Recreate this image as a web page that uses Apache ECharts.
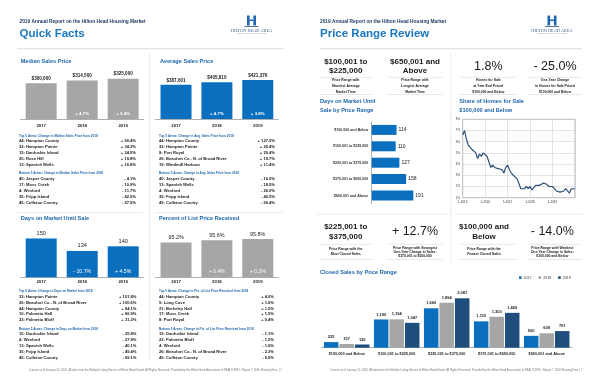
<!DOCTYPE html>
<html><head><meta charset="utf-8">
<script src="https://cdn.jsdelivr.net/npm/echarts@6/dist/echarts.min.js"></script>
<style>html,body{margin:0;padding:0;background:#fff}#c{width:600px;height:388px}</style>
</head><body><div id="c"></div>
<script>
// ---------------- DATA ----------------
const years = ['2017', '2018', '2019'];
const medianPrice = [300000, 314500, 325000];
const medianChange = ['', '+ 4.7%', '+ 3.4%'];
const avgPrice = [387601, 405810, 421376];
const avgChange = ['', '+ 4.7%', '+ 3.8%'];
const daysOnMarket = [150, 134, 140];
const domChange = ['', '- 10.7%', '+ 4.5%'];
const pctListReceived = [95.2, 95.6, 95.8];
const pctChange = ['', '+ 0.4%', '+ 0.2%'];

const medTopAreas = ['44: Hampton County', '32: Hampton Pointe', '15: Daufuskie Island', '20: Rose Hill', '13: Spanish Wells'];
const medTopVals = ['+ 60.4%', '+ 34.3%', '+ 24.5%', '+ 19.8%', '+ 16.8%'];
const medBotAreas = ['40: Jasper County', '17: Moss Creek', '4: Wexford', '35: Fripp Island', '45: Colleton County'];
const medBotVals = ['- 4.1%', '- 10.9%', '- 11.7%', '- 42.5%', '- 57.5%'];

const avgTopAreas = ['44: Hampton County', '32: Hampton Pointe', '8: Port Royal', '26: Beaufort Co - N. of Broad River', '19: Windmill Harbour'];
const avgTopVals = ['+ 127.0%', '+ 25.4%', '+ 20.4%', '+ 19.7%', '+ 11.4%'];
const avgBotAreas = ['40: Jasper County', '13: Spanish Wells', '4: Wexford', '35: Fripp Island', '45: Colleton County'];
const avgBotVals = ['- 16.0%', '- 18.5%', '- 26.0%', '- 40.5%', '- 56.4%'];

const domTopAreas = ['32: Hampton Pointe', '26: Beaufort Co - N. of Broad River', '44: Hampton County', '10: Palmetto Hall', '22: Palmetto Bluff'];
const domTopVals = ['+ 101.8%', '+ 100.6%', '+ 84.1%', '+ 66.9%', '+ 31.2%'];
const domBotAreas = ['15: Daufuskie Island', '4: Wexford', '13: Spanish Wells', '35: Fripp Island', '45: Colleton County'];
const domBotVals = ['- 25.8%', '- 27.8%', '- 40.1%', '- 49.4%', '- 69.1%'];

const pctTopAreas = ['44: Hampton County', '5: Long Cove', '21: Berkeley Hall', '17: Moss Creek', '8: Port Royal'];
const pctTopVals = ['+ 4.0%', '+ 1.6%', '+ 1.5%', '+ 1.5%', '+ 0.4%'];
const pctBotAreas = ['15: Daufuskie Island', '22: Palmetto Bluff', '4: Wexford', '26: Beaufort Co - N. of Broad River', '45: Colleton County'];
const pctBotVals = ['- 1.1%', '- 1.5%', '- 1.6%', '- 2.3%', '- 6.5%'];

const priceRanges = ['$100,000 and Below', '$100,001 to $225,000', '$225,001 to $375,000', '$375,001 to $650,000', '$650,001 and Above'];
const domByRange = [114, 110, 127, 158, 191];
const closed2017 = [235, 1190, 1660, 1110, 500];
const closed2018 = [157, 1194, 1894, 1303, 608];
const closed2019 = [135, 1047, 2081, 1469, 701];

const shareLabels = [];
for (let y = 2015; y <= 2019; y++) for (let m = 1; m <= 12; m++) shareLabels.push(m + '-' + y);
shareLabels.push('1-2020');
const shareValues = [6.6, 7.0, 6.2, 5.7, 5.5, 5.3, 5.4, 5.0, 4.5, 4.9, 4.7, 5.0,
  5.1, 4.7, 4.2, 3.7, 3.9, 3.7, 3.6, 3.6, 3.5, 3.5, 3.2, 3.7,
  3.9, 3.5, 3.2, 3.0, 3.0, 2.7, 2.3, 1.8, 1.9, 1.8, 2.0, 1.8,
  2.0, 1.7, 1.8, 2.1, 2.2, 2.1, 2.2, 2.3, 2.3, 2.2, 2.0, 2.0,
  2.0, 1.8, 1.6, 1.5, 1.5, 1.5, 1.6, 1.8, 1.9, 1.4, 1.8, 1.8, 1.8];

const statsTop = [
  { big: ['$100,001 to', '$225,000'], small: ['Price Range with', 'Shortest Average', 'Market Time'] },
  { big: ['$650,001 and', 'Above'], small: ['Price Range with', 'Longest Average', 'Market Time'] },
  { big: ['1.8%'], small: ['Homes for Sale', 'at Year End Priced', '$100,000 and Below'] },
  { big: ['- 25.0%'], small: ['One-Year Change', 'in Homes for Sale Priced', '$100,000 and Below'] }
];
const statsMid = [
  { big: ['$225,001 to', '$375,000'], small: ['Price Range with the', 'Most Closed Sales'] },
  { big: ['+ 12.7%'], small: ['Price Range with Strongest', 'One-Year Change in Sales:', '$375,001 to $650,000'] },
  { big: ['$100,000 and', 'Below'], small: ['Price Range with the', 'Fewest Closed Sales'] },
  { big: ['- 14.0%'], small: ['Price Range with Weakest', 'One-Year Change in Sales:', '$100,000 and Below'] }
];

// ---------------- STYLE ----------------
const FONT = '"Liberation Sans", Arial, sans-serif';
const BLUE = '#0b6fbf', GRAY = '#a6a6a6', NAVY = '#1f4e7c';
const TITLE = '#1e66ad', HEAD = '#1f3a64', TXT = '#1a1a1a';

const G = [];
function T(x, y, text, size, o) {
  o = o || {};
  G.push({ type: 'text', x: x, y: y, silent: true, z: 10,
    style: { text: text, fontSize: size, fontWeight: o.w || 'bold', fontFamily: o.f || FONT,
      fill: o.c || TXT, textAlign: o.a || 'left', textVerticalAlign: 'middle' } });
}
function L(x1, y1, x2, y2, c, w) {
  G.push({ type: 'line', silent: true, shape: { x1: x1, y1: y1, x2: x2, y2: y2 }, style: { stroke: c || '#d9d9d9', lineWidth: w || 0.6 } });
}
function R(x, y, w, h, c) {
  G.push({ type: 'rect', silent: true, shape: { x: x, y: y, width: w, height: h }, style: { fill: c } });
}
function logo(cx) {
  R(cx - 4.5, 15.5, 2.6, 10, '#1e66ad');
  R(cx + 1.9, 15.5, 2.6, 10, '#1e66ad');
  R(cx - 2, 19.5, 4, 1.6, '#1e66ad');
  R(cx - 7, 26, 14, 0.8, '#2a4d7a');
  T(cx, 30.6, 'HILTON HEAD AREA', 4.3, { a: 'center', w: 'normal', c: '#3f5f86', f: '"Liberation Serif", serif' });
  T(cx, 33.6, 'ASSOCIATION OF REALTORS', 2.3, { a: 'center', w: 'normal', c: '#6a7f99', f: '"Liberation Serif", serif' });
}
function table(x, xr, yHead, rowYs, head, areas, vals) {
  T(x, yHead, head, 3.1, { c: TITLE });
  areas.forEach((a, i) => { T(x, rowYs[i], a, 4.1); T(xr, rowYs[i], vals[i], 4.1, { a: 'right' }); });
}
function statBlock(cx, x1, x2, lineY1, lineY2, bigYs, bigSize, bigW, s, smallYs) {
  s.big.forEach((b, i) => T(cx, bigYs[i], b, bigSize, { a: 'center', w: bigW }));
  L(x1, lineY1, x2, lineY1, '#d0d0d0', 0.5);
  s.small.forEach((t, i) => T(cx, smallYs[i], t, 3.4, { a: 'center' }));
  L(x1, lineY2, x2, lineY2, '#d0d0d0', 0.5);
}

// ---------------- LEFT PAGE TEXT ----------------
T(19.5, 21.5, '2019 Annual Report on the Hilton Head Housing Market', 4.8, { c: HEAD });
T(19.5, 33.5, 'Quick Facts', 11.5, { c: '#1a78c2' });
logo(251.5);
L(17, 48.7, 284, 48.7, '#cfcfcf', 0.7);
L(149.5, 53, 149.5, 361, '#dedede', 0.6);
L(17, 212.7, 143, 212.7, '#dedede', 0.6);
L(155, 212.7, 283, 212.7, '#dedede', 0.6);
T(20.7, 61, 'Median Sales Price', 5.6, { c: TITLE });
T(160, 61, 'Average Sales Price', 5.6, { c: TITLE });
T(20.7, 218.3, 'Days on Market Until Sale', 5.6, { c: TITLE });
T(159, 218.3, 'Percent of List Price Received', 5.6, { c: TITLE });

const rowsA = [141, 147, 153.2, 159.2, 165];
const rowsB = [179, 185, 191, 197, 202.8];
const rowsC = [297, 302.7, 308.4, 314.1, 319.8];
const rowsD = [334, 340, 346, 351.7, 357.4];
table(19, 136, 135.7, rowsA, 'Top 5 Areas: Change in Median Sales Price from 2018', medTopAreas, medTopVals);
table(19, 136, 173.3, rowsB, 'Bottom 5 Areas: Change in Median Sales Price from 2018', medBotAreas, medBotVals);
table(159, 275, 135.7, rowsA, 'Top 5 Areas: Change in Avg. Sales Price from 2018', avgTopAreas, avgTopVals);
table(159, 275, 173.3, rowsB, 'Bottom 5 Areas: Change in Avg. Sales Price from 2018', avgBotAreas, avgBotVals);
table(19, 136.5, 291.3, rowsC, 'Top 5 Areas: Change in Days on Market from 2018', domTopAreas, domTopVals);
table(19, 136.5, 329.3, rowsD, 'Bottom 5 Areas: Change in Days on Market from 2018', domBotAreas, domBotVals);
table(159, 274, 291.5, rowsC, 'Top 5 Areas: Change in Pct. of List Price Received from 2018', pctTopAreas, pctTopVals);
table(159, 274, 329.3, rowsD, 'Bottom 5 Areas: Change in Pct. of List Price Received from 2018', pctBotAreas, pctBotVals);
const footer1 = 'Current as of January 10, 2020. All data from the Multiple Listing Service of Hilton Head Island. All Rights Reserved. Provided by the Hilton Head Association of REALTORS\u00ae. Report \u00a9 2020 ShowingTime. | ';
T(155.4, 370.7, footer1 + '1', 2.75, { a: 'center', w: 'normal', c: '#7a7a7a' });

// ---------------- RIGHT PAGE TEXT ----------------
T(320, 21.7, '2019 Annual Report on the Hilton Head Housing Market', 4.8, { c: HEAD });
T(320, 33.5, 'Price Range Review', 11.5, { c: '#1a78c2' });
logo(552);
L(320, 48.7, 582, 48.7, '#cfcfcf', 0.7);
L(450.7, 53, 450.7, 262, '#dedede', 0.6);
L(317, 214.3, 447, 214.3, '#dedede', 0.6);
L(455, 214.3, 583, 214.3, '#dedede', 0.6);

const cxs = [345.7, 415, 488.3, 555];
const spans = [[320, 371.7], [387, 443], [459, 517], [528, 582]];
statsTop.forEach((s, i) => {
  const two = s.big.length === 2;
  statBlock(cxs[i], spans[i][0], spans[i][1], 77.3, 94.5, two ? [61.7, 71] : [66.7], two ? 8 : 12.5, two ? 'bold' : 'normal', s, [80.3, 86, 91.6]);
});
const cxs2 = [345.7, 415, 484, 552.3];
statsMid.forEach((s, i) => {
  const two = s.big.length === 2;
  statBlock(cxs2[i], spans[i][0], spans[i][1], 244.3, 259.5, two ? [226.7, 236.7] : [231.7], two ? 8 : 12.5, two ? 'bold' : 'normal', s,
    s.small.length === 2 ? [249.3, 254.3] : [248.3, 252.2, 256.1]);
});
T(320, 101.7, 'Days on Market Until', 5.6, { c: TITLE });
T(320, 110.2, 'Sale by Price Range', 5.6, { c: TITLE });
T(459.3, 101.7, 'Share of Homes for Sale', 5.6, { c: TITLE });
T(459.3, 110.2, '$100,000 and Below', 5.6, { c: TITLE });
T(320, 272.5, 'Closed Sales by Price Range', 5.6, { c: TITLE });
T(456.3, 370.7, footer1 + '2', 2.75, { a: 'center', w: 'normal', c: '#7a7a7a' });

// ---------------- CHART OPTION ----------------
const grids = [], xAxes = [], yAxes = [], series = [];
const money = v => '$' + v.toLocaleString('en-US');

function yearBars(left, bottom, width, min, max, pxPerUnit, values, changes, color, fmt, topSize, topW, inSize, inW, yearMargin) {
  const h = (max - min) * pxPerUnit;
  const idx = grids.length;
  grids.push({ left: left, top: bottom - h, width: width, height: h });
  xAxes.push({ type: 'category', gridIndex: idx, data: years,
    axisLine: { lineStyle: { color: '#8c8c8c', width: 0.7 } }, axisTick: { show: false },
    axisLabel: { fontSize: 4.3, fontWeight: 'bold', color: TXT, margin: yearMargin, fontFamily: FONT } });
  yAxes.push({ type: 'value', gridIndex: idx, min: min, max: max, show: false, splitLine: { show: false } });
  series.push({ type: 'bar', xAxisIndex: idx, yAxisIndex: idx, data: values, barWidth: 31, barGap: '-100%',
    itemStyle: { color: color }, silent: true,
    label: { show: true, position: 'top', distance: 2, formatter: p => fmt(p.value), fontSize: topSize, fontWeight: topW, color: TXT, fontFamily: FONT } });
  series.push({ type: 'bar', xAxisIndex: idx, yAxisIndex: idx, data: values, barWidth: 31, barGap: '-100%',
    itemStyle: { color: 'rgba(0,0,0,0)' }, silent: true, z: 5,
    label: { show: true, position: 'insideBottom', distance: 3.5, formatter: p => changes[p.dataIndex], fontSize: inSize, fontWeight: inW, color: '#fff', fontFamily: FONT } });
}
yearBars(20.7, 119, 123, 100000, 400000, 40.3 / 225000, medianPrice, medianChange, GRAY, money, 4.6, 'bold', 4.4, 'bold', 4.5);
yearBars(155.6, 119, 122.6, 150000, 500000, 39 / 271376, avgPrice, avgChange, BLUE, money, 4.6, 'bold', 4.4, 'bold', 4.5);
yearBars(20.7, 277.3, 123, 100, 160, 0.775, daysOnMarket, domChange, BLUE, v => String(v), 5.6, 'normal', 5.2, 'normal', 2.4);
yearBars(155.6, 277.3, 122.6, 89, 97, 5.63, pctListReceived, pctChange, GRAY, v => v.toFixed(1) + '%', 5.4, 'normal', 5.0, 'normal', 2.4);

// Days on market by price range (horizontal)
let gi = grids.length;
grids.push({ left: 371.7, top: 121.7, width: 300 * 0.218, height: 82 });
xAxes.push({ type: 'value', gridIndex: gi, min: 0, max: 300, show: false, splitLine: { show: false } });
yAxes.push({ type: 'category', gridIndex: gi, data: priceRanges, inverse: true,
  axisLine: { lineStyle: { color: '#8c8c8c', width: 0.7 } }, axisTick: { show: false },
  axisLabel: { fontSize: 3.6, fontWeight: 'bold', color: '#333', margin: 3.4, fontFamily: FONT } });
series.push({ type: 'bar', xAxisIndex: gi, yAxisIndex: gi, data: domByRange, barWidth: 10, silent: true,
  itemStyle: { color: BLUE },
  label: { show: true, position: 'right', distance: 2, fontSize: 5, color: '#222', fontFamily: FONT } });

// Share of homes for sale line
gi = grids.length;
grids.push({ left: 462.7, top: 119.3, width: 112.3, height: 78.4, show: true, borderColor: '#8c8c8c', borderWidth: 0.6 });
xAxes.push({ type: 'category', gridIndex: gi, data: shareLabels, boundaryGap: false,
  axisLine: { show: false }, axisTick: { show: false },
  axisLabel: { interval: (i) => i % 12 === 0 && i < 60, fontSize: 3, color: '#333', margin: 2.5, fontFamily: FONT },
  splitLine: { show: true, interval: (i) => i % 12 === 0, lineStyle: { color: '#c8c8c8', width: 0.5 } } });
yAxes.push({ type: 'value', gridIndex: gi, min: 1, max: 8, interval: 1,
  axisLine: { show: false }, axisTick: { show: false },
  axisLabel: { formatter: '{value}%', fontSize: 3, color: '#333', margin: 2.5, fontFamily: FONT },
  splitLine: { lineStyle: { color: '#c8c8c8', width: 0.5 } } });
series.push({ type: 'line', xAxisIndex: gi, yAxisIndex: gi, data: shareValues, symbol: 'none', silent: true,
  lineStyle: { color: '#2d5279', width: 1.2 } });

// Closed sales grouped bars
gi = grids.length;
const csScale = 49.4 / 2081;
grids.push({ left: 321.7, top: 347.7 - 2500 * csScale, width: 250, height: 2500 * csScale });
xAxes.push({ type: 'category', gridIndex: gi, data: priceRanges,
  axisLine: { lineStyle: { color: '#8c8c8c', width: 0.7 } }, axisTick: { show: false },
  axisLabel: { fontSize: 3.8, fontWeight: 'bold', color: '#222', margin: 4.7, fontFamily: FONT } });
yAxes.push({ type: 'value', gridIndex: gi, min: 0, max: 2500, show: false, splitLine: { show: false } });
[[ '2017', closed2017, BLUE ], [ '2018', closed2018, GRAY ], [ '2019', closed2019, NAVY ]].forEach(s => {
  series.push({ name: s[0], type: 'bar', xAxisIndex: gi, yAxisIndex: gi, data: s[1], barWidth: 14.5, barGap: '7%', silent: true,
    itemStyle: { color: s[2] },
    label: { show: true, position: 'top', distance: 3, formatter: p => p.value.toLocaleString('en-US'), fontSize: 4, fontWeight: 'bold', color: '#222', fontFamily: FONT } });
});

const chart = echarts.init(document.getElementById('c'), null, { renderer: 'canvas' });
chart.setOption({
  animation: false,
  backgroundColor: '#fff',
  grid: grids, xAxis: xAxes, yAxis: yAxes, series: series,
  legend: { data: ['2017', '2018', '2019'], left: 519, top: 275.6, itemWidth: 2.6, itemHeight: 2.6, itemGap: 7, padding: 0,
    icon: 'rect', textStyle: { fontSize: 3.6, color: '#333', fontFamily: FONT, padding: [0, 0, 0, -3] }, selectedMode: false },
  graphic: G
});
</script></body></html>
